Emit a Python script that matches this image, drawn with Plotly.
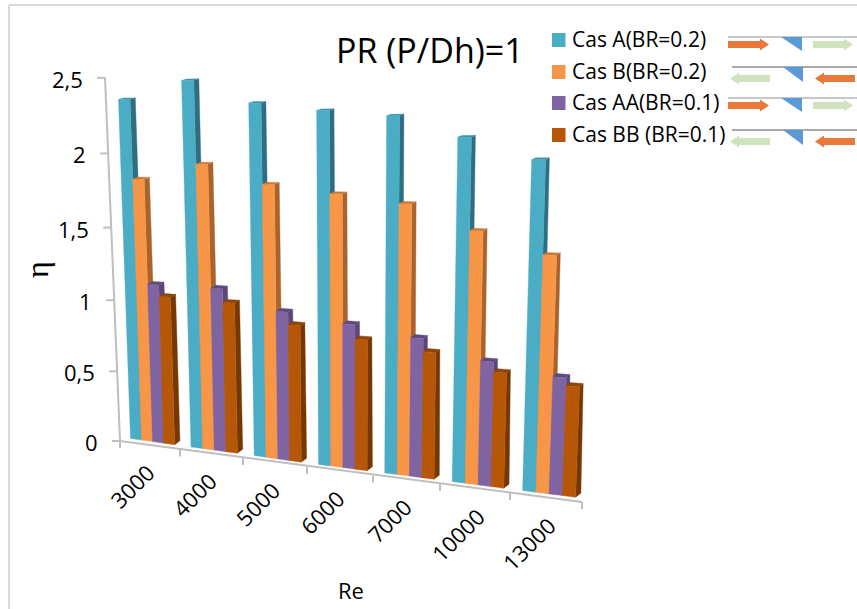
import numpy as np
import plotly.graph_objects as go

# ---- data ----
categories = ["3000", "4000", "5000", "6000", "7000", "10000", "13000"]
y_tick_values = [0, 0.5, 1, 1.5, 2, 2.5]
y_tick_labels = ["0", "0,5", "1", "1,5", "2", "2,5"]
series_names = ["Cas A(BR=0.2)", "Cas B(BR=0.2)", "Cas AA(BR=0.1)", "Cas BB (BR=0.1)"]
cas_a = [2.331, 2.45, 2.302, 2.255, 2.218, 2.09, 1.961]
cas_b = [1.805, 1.913, 1.793, 1.744, 1.693, 1.543, 1.416]
cas_aa = [1.10, 1.103, 0.982, 0.933, 0.876, 0.766, 0.706]
cas_bb = [1.023, 1.014, 0.902, 0.842, 0.795, 0.706, 0.659]
series_values = [cas_a, cas_b, cas_aa, cas_bb]

# ---- styles ----
FRONT = ["#4BACC6", "#F79646", "#8064A2", "#B65708"]
SIDE = ["#2F6E82", "#A8642C", "#5B4676", "#763803"]
TOP = ["#3F92A9", "#C97A38", "#5F4A80", "#8F4506"]
FONT = "Open Sans, sans-serif"
AXIS = "#BFBFBF"

# ---- oblique projection used for the pseudo-3D look ----
TICK_X = [120, 180, 243, 307, 373, 440, 510, 582]
TICK_Y = [441, 449.5, 458, 467, 475.5, 484, 493, 502]
BAR_START, BAR_STEP = 0.175, 0.184
S0, K = 137.8, 0.0217


def height(v, g=1.0):
    return S0 * g * (v + K * v * v)


def project(t, v):
    x0 = np.interp(t, range(8), TICK_X)
    y0 = np.interp(t, range(8), TICK_Y) - 4
    lean = -0.0354 + (x0 - 131) * 0.0001604
    h = height(v, 1 + 0.000433 * (x0 - 120))
    return x0 + lean * h, y0 - h


def depth(x, v):
    shrink = 1.7 * (x - 120) / 462 * min(1.0, v / 0.5)
    return 5.3 - shrink, -(4 - 1.05 * v)


fig = go.Figure()


def poly_trace(polys, color):
    xs, ys = [], []
    for p in polys:
        xs += [q[0] for q in p] + [p[0][0], None]
        ys += [q[1] for q in p] + [p[0][1], None]
    fig.add_trace(go.Scatter(x=xs, y=ys, mode="lines", fill="toself", fillcolor=color,
                             line=dict(width=0.4, color=color), hoverinfo="skip", showlegend=False))


for s, vals in enumerate(series_values):
    front, side, top = [], [], []
    for c, v in enumerate(vals):
        t0 = c + BAR_START + BAR_STEP * s
        t1 = t0 + BAR_STEP
        a, b, d, e = project(t0, 0), project(t1, 0), project(t1, v), project(t0, v)
        dx0, dy0 = depth(b[0], 0)
        dxv, dyv = depth(d[0], v)
        front.append([a, b, d, e])
        side.append([b, (b[0] + dx0, b[1] + dy0), (d[0] + dxv, d[1] + dyv), d])
        top.append([e, d, (d[0] + dxv, d[1] + dyv), (e[0] + dxv, e[1] + dyv)])
    poly_trace(side, SIDE[s])
    poly_trace(top, TOP[s])
    poly_trace(front, FRONT[s])

shapes = []


def line(x0, y0, x1, y1, color=AXIS, width=2):
    shapes.append(dict(type="line", x0=x0, y0=y0, x1=x1, y1=y1, layer="below",
                       line=dict(color=color, width=width)))


def axis_pt(v):
    h = height(v)
    return 120 - 0.0412 * h, 441 - h


annotations = []


def text(x, y, s, size, angle=0, xanchor="center", family=FONT, color="#000000"):
    annotations.append(dict(x=x, y=y, text=s, showarrow=False, textangle=angle, xanchor=xanchor,
                            yanchor="middle", font=dict(family=family, size=size, color=color)))


# frame
line(9, 5, 857, 5, "#D9D9D9", 2)
line(9, 5, 9, 609, "#D9D9D9", 2)

# y axis
ax0 = axis_pt(0)
ax1 = axis_pt(2.5)
line(ax0[0], ax0[1], ax1[0], ax1[1])
for v, lab in zip(y_tick_values, y_tick_labels):
    px, py = axis_pt(v)
    line(px - 8, py, px, py)
    text(px - 20, py + 1, lab, 22, xanchor="right")

# x axis
line(TICK_X[0], TICK_Y[0], TICK_X[-1], TICK_Y[-1])
for tx, ty in zip(TICK_X, TICK_Y):
    line(tx, ty, tx, ty + 7)
for i, lab in enumerate(categories):
    mx = (TICK_X[i] + TICK_X[i + 1]) / 2
    my = (TICK_Y[i] + TICK_Y[i + 1]) / 2
    off = 46 if len(lab) > 4 else 41
    text(mx - 18, my + off, lab, 22, angle=-45)

text(430, 50, "PR (P/Dh)=1", 34)
text(37, 270, "η", 32, angle=-90, family="Liberation Serif, serif")
text(351, 590, "Re", 22)
text(32, -4, "g", 15, family="Liberation Serif, serif")

# legend
LEG_Y = [40, 72, 103, 135]
for name, col, ly in zip(series_names, FRONT, LEG_Y):
    shapes.append(dict(type="rect", x0=552, x1=565.5, y0=ly - 7, y1=ly + 7, fillcolor=col, line=dict(width=0)))
    text(570, ly - 1, name, 21, xanchor="left")


def path(points, fill):
    d = "M " + " L ".join(f"{x},{y}" for x, y in points) + " Z"
    shapes.append(dict(type="path", path=d, fillcolor=fill, line=dict(width=0)))


def arrow(x_tail, x_head, y, fill):
    sgn = 1 if x_head > x_tail else -1
    hb = x_head - sgn * 9
    path([(x_tail, y - 3.5), (hb, y - 3.5), (hb, y - 6), (x_head, y), (hb, y + 6), (hb, y + 3.5), (x_tail, y + 3.5)], fill)


ORANGE_A, GREEN_A, BLUE_T = "#E8793A", "#CFE4BE", "#5B9BD5"
for base_y, forward in [(37, True), (67, False), (98, True), (130, False)]:
    if forward:
        line(728, base_y, 857, base_y, "#C8C8C8", 2)
        shapes[-1]["layer"] = "above"
        arrow(728, 769, base_y + 7.5, ORANGE_A)
        arrow(813, 853, base_y + 7.5, GREEN_A)
        path([(781, base_y), (802, base_y), (802, base_y + 14)], BLUE_T)
    else:
        line(732, base_y, 857, base_y, "#555555", 1)
        shapes[-1]["layer"] = "above"
        arrow(770, 730, base_y + 11.5, GREEN_A)
        arrow(855, 815, base_y + 11.5, ORANGE_A)
        path([(783, base_y), (803, base_y), (803, base_y + 15)], BLUE_T)

fig.update_layout(
    width=857, height=609, margin=dict(l=0, r=0, t=0, b=0),
    paper_bgcolor="#FFFFFF", plot_bgcolor="#FFFFFF", showlegend=False,
    xaxis=dict(range=[0, 857], visible=False, fixedrange=True),
    yaxis=dict(range=[609, 0], visible=False, fixedrange=True),
    shapes=shapes, annotations=annotations,
)
fig.write_html("out.html", post_script="document.body.style.margin='0';document.body.style.overflow='hidden';",
               config=dict(displayModeBar=False))
